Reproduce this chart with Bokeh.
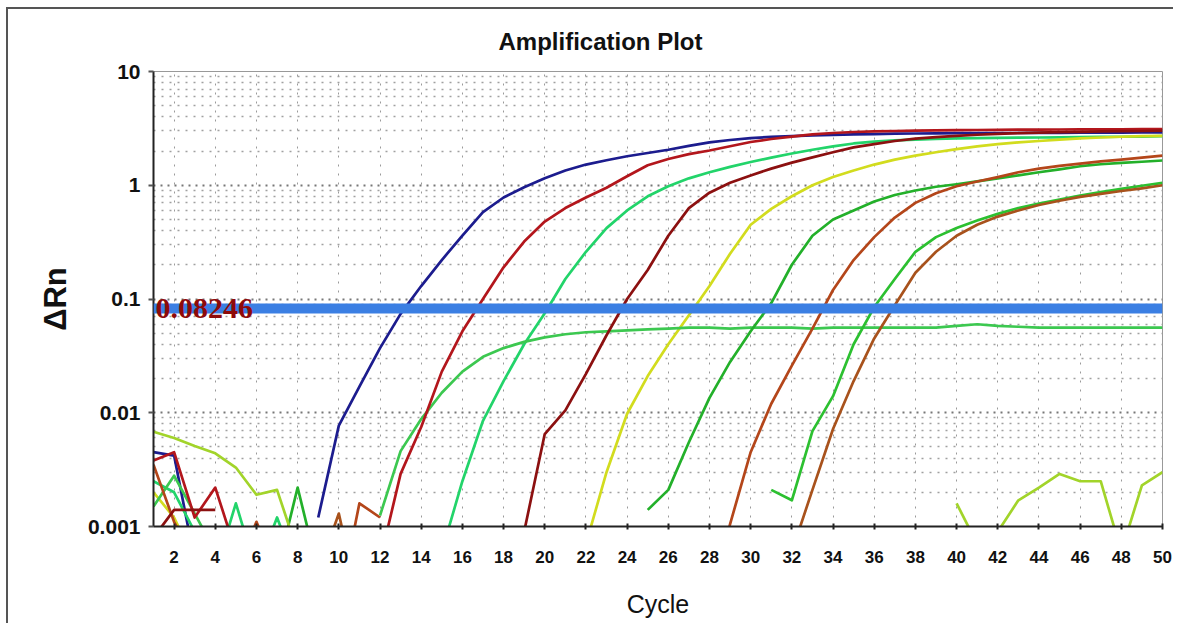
import math
from bokeh.plotting import figure
from bokeh.models import Range1d, FixedTicker, Span, Label
from bokeh.embed import file_html
from bokeh.resources import INLINE

na = float("nan")

cycles = list(range(1, 51))
threshold = 0.08246
threshold_text = "0.08246"

x_ticks = list(range(2, 51, 2))
y_ticks = [0.001, 0.01, 0.1, 1, 10]
y_tick_labels = ["0.001", "0.01", "0.1", "1", "10"]

blue_a = [0.0045, 0.0042, 0.0005, na, na, na, na, na, 0.0012, 0.0077,
          0.017, 0.037, 0.074, 0.13, 0.22, 0.36, 0.58, 0.78, 0.96, 1.15,
          1.35, 1.52, 1.66, 1.8, 1.92, 2.05, 2.22, 2.38, 2.5, 2.6,
          2.66, 2.7, 2.74, 2.77, 2.8, 2.82, 2.84, 2.85, 2.86, 2.87,
          2.87, 2.88, 2.88, 2.89, 2.89, 2.9, 2.9, 2.9, 2.91, 2.91]
red_b = [0.0038, 0.0045, 0.0012, 0.0022, 0.0006, na, na, na, na, na,
         na, 0.0005, 0.0029, 0.0075, 0.023, 0.052, 0.1, 0.19, 0.32, 0.48,
         0.63, 0.78, 0.95, 1.2, 1.5, 1.7, 1.88, 2.02, 2.2, 2.4,
         2.55, 2.68, 2.8, 2.88, 2.94, 2.98, 3.0, 3.02, 3.04, 3.05,
         3.06, 3.07, 3.08, 3.08, 3.09, 3.1, 3.1, 3.1, 3.11, 3.11]
green_c = [0.0015, 0.0028, 0.0013, 0.0006, na, na, na, na, na, na,
           na, 0.00125, 0.0046, 0.0088, 0.015, 0.023, 0.031, 0.037, 0.042, 0.046,
           0.049, 0.051, 0.052, 0.053, 0.054, 0.055, 0.056, 0.056, 0.055, 0.056,
           0.056, 0.056, 0.055, 0.056, 0.056, 0.056, 0.056, 0.056, 0.056, 0.058,
           0.06, 0.058, 0.057, 0.056, 0.056, 0.056, 0.056, 0.056, 0.056, 0.056]
green_d = [0.0025, 0.002, 0.0009, 0.0004, 0.0016, 0.0004, 0.0012, 0.0004, na, na,
           na, na, na, na, 0.0006, 0.0025, 0.0085, 0.019, 0.04, 0.075,
           0.15, 0.26, 0.42, 0.6, 0.8, 0.98, 1.15, 1.3, 1.45, 1.6,
           1.75, 1.9, 2.05, 2.2, 2.33, 2.42, 2.48, 2.52, 2.55, 2.58,
           2.6, 2.61, 2.62, 2.63, 2.64, 2.65, 2.66, 2.67, 2.68, 2.7]
red_e = [0.0008, 0.0014, 0.0014, 0.0014, na, na, na, na, na, na,
         na, na, na, na, na, na, na, na, 0.0009, 0.0065,
         0.0105, 0.022, 0.048, 0.1, 0.18, 0.36, 0.63, 0.86, 1.05, 1.22,
         1.4, 1.58, 1.76, 1.95, 2.15, 2.3, 2.45, 2.57, 2.65, 2.72,
         2.78, 2.83, 2.87, 2.9, 2.93, 2.95, 2.97, 2.99, 3.0, 3.02]
yellow_f = [0.002, 0.0012, 0.0005, na, na, na, na, na, na, na,
            na, na, na, na, na, na, na, na, na, na,
            na, 0.0007, 0.003, 0.0098, 0.021, 0.04, 0.072, 0.13, 0.25, 0.45,
            0.62, 0.8, 1.0, 1.18, 1.35, 1.52, 1.68, 1.82, 1.95, 2.08,
            2.2, 2.3, 2.38, 2.45, 2.52, 2.58, 2.63, 2.67, 2.7, 2.72]
green_g = [na, na, na, na, na, na, 0.0004, 0.0022, 0.0004, na,
           na, na, na, na, na, na, na, na, na, na,
           na, na, na, na, 0.0014, 0.0021, 0.0055, 0.0135, 0.028, 0.052,
           0.092, 0.2, 0.36, 0.5, 0.6, 0.72, 0.82, 0.9, 0.97, 1.02,
           1.08, 1.15, 1.22, 1.3, 1.38, 1.47, 1.53, 1.57, 1.61, 1.65]
brown_h = [0.0035, 0.0011, 0.0005, na, 0.0004, 0.0011, 0.0004, na, na, 0.0002,
           0.0016, 0.0012, na, na, na, na, na, na, na, na,
           na, na, na, na, na, na, na, 0.0002, 0.00105, 0.0045,
           0.012, 0.026, 0.055, 0.12, 0.22, 0.35, 0.52, 0.7, 0.85, 0.98,
           1.08, 1.18, 1.3, 1.4, 1.48, 1.55, 1.62, 1.68, 1.75, 1.82]
green_i = [na, na, na, na, na, na, na, na, na, na,
           na, na, na, na, na, na, na, na, na, na,
           na, na, na, na, na, na, na, na, na, na,
           0.0021, 0.0017, 0.0069, 0.014, 0.04, 0.085, 0.15, 0.26, 0.35, 0.42,
           0.49, 0.56, 0.63, 0.69, 0.75, 0.81, 0.87, 0.93, 0.99, 1.05]
brown_j = [na, na, na, na, na, na, na, na, 0.0004, 0.0013,
           0.0002, na, na, na, na, na, na, na, na, na,
           na, na, na, na, na, na, na, na, na, na,
           na, 0.0006, 0.0021, 0.0072, 0.019, 0.045, 0.088, 0.17, 0.26, 0.36,
           0.45, 0.53, 0.6, 0.67, 0.73, 0.79, 0.84, 0.89, 0.94, 1.0]
lime_k = [0.0068, 0.006, 0.0051, 0.0044, 0.0033, 0.0019, 0.0021, 0.0006, na, na,
          na, na, na, na, na, na, na, na, na, na,
          na, na, na, na, na, na, na, na, na, na,
          na, na, na, na, na, na, na, na, na, 0.0016,
          0.0007, 0.0009, 0.0017, 0.0022, 0.0029, 0.0025, 0.0025, 0.0006, 0.0023, 0.003]

# drawing order (bottom to top) and colours
series = [
    (blue_a, "#1c1c8e"),
    (green_d, "#22d46a"),
    (yellow_f, "#d2dc1e"),
    (green_c, "#3cc850"),
    (green_g, "#23b02a"),
    (green_i, "#2cc030"),
    (brown_h, "#b4461a"),
    (brown_j, "#a8521c"),
    (lime_k, "#a2d42a"),
    (red_b, "#b3161c"),
    (red_e, "#8c1010"),
]

SANS = "'Liberation Sans Narrow', 'Arial Narrow', 'Liberation Sans', sans-serif"

p = figure(width=1167, height=616, x_range=Range1d(1, 50), y_range=Range1d(0.001, 10),
           y_axis_type="log", output_backend="svg", toolbar_location=None,
           min_border_left=145, min_border_right=13, min_border_top=61, min_border_bottom=99,
           background_fill_color="white", border_fill_color="white")
# outer picture frame: left and top edges only (a shadow drawn outside the element)
p.styles = {"position": "relative", "left": "8px", "top": "9px",
            "box-shadow": "-2px -2px 0 0 #555555"}

p.title.text = "Amplification Plot"
p.title.align = "left"
p.title.offset = 345
p.title.text_font = SANS
p.title.text_font_size = "24px"
p.title.text_font_style = "bold"
p.title.text_color = "#111111"
p.title.standoff = 33

for ys, col in series:
    p.line(cycles, ys, line_color=col, line_width=2.7, line_join="round")

p.add_layout(Span(location=threshold, dimension="width", line_color="#3b7fe3",
                  line_width=10))
p.add_layout(Label(x=1, y=threshold, text=threshold_text, x_offset=2,
                   text_baseline="alphabetic", text_color="#8e0a0a",
                   text_font="'Liberation Serif', 'Times New Roman', serif",
                   text_font_style="bold", text_font_size="30px"))

# axes
p.xaxis.ticker = FixedTicker(ticks=x_ticks)
p.xaxis.axis_label = "Cycle"
p.xaxis.axis_label_text_font = SANS
p.xaxis.axis_label_text_font_size = "25px"
p.xaxis.axis_label_text_font_style = "normal"
p.xaxis.axis_label_text_color = "#111111"
p.xaxis.axis_label_standoff = 24
p.xaxis.major_label_text_font = SANS
p.xaxis.major_label_text_font_size = "17px"
p.xaxis.major_label_text_font_style = "bold"
p.xaxis.major_label_text_color = "#111111"
p.xaxis.major_label_standoff = 21
p.xaxis.major_tick_in = 3
p.xaxis.major_tick_out = 3
p.xaxis.minor_tick_in = 0
p.xaxis.minor_tick_out = 0
p.xaxis.axis_line_width = 2
p.xaxis.axis_line_color = "#222222"
p.xaxis.major_tick_line_color = "#222222"
p.xaxis.major_tick_line_width = 2

minor = [m * 10.0 ** e for e in range(-3, 1) for m in range(2, 10)]
yt = FixedTicker(ticks=y_ticks, minor_ticks=minor)
p.yaxis.ticker = yt
p.yaxis.major_label_overrides = {t: lab for t, lab in zip(y_ticks, y_tick_labels)}
p.yaxis.axis_label = "\u0394Rn"
p.yaxis.axis_label_text_font = "'Liberation Sans', Arial, sans-serif"
p.yaxis.axis_label_text_font_size = "31px"
p.yaxis.axis_label_text_font_style = "bold"
p.yaxis.axis_label_text_color = "#111111"
p.yaxis.axis_label_standoff = 12
p.yaxis.major_label_text_font = SANS
p.yaxis.major_label_text_font_size = "21px"
p.yaxis.major_label_text_font_style = "bold"
p.yaxis.major_label_text_color = "#111111"
p.yaxis.major_label_standoff = 8
p.yaxis.major_tick_in = 0
p.yaxis.major_tick_out = 5
p.yaxis.minor_tick_in = 0
p.yaxis.minor_tick_out = 0
p.yaxis.axis_line_width = 2
p.yaxis.axis_line_color = "#222222"
p.yaxis.major_tick_line_color = "#555555"
p.yaxis.major_tick_line_width = 2

# grid
p.xgrid.ticker = FixedTicker(ticks=x_ticks)
p.xgrid.grid_line_color = "#9a9a9a"
p.xgrid.grid_line_dash = "2 7"
p.xgrid.grid_line_width = 1
p.ygrid.ticker = yt
p.ygrid.grid_line_color = "#777777"
p.ygrid.grid_line_dash = "2 5"
p.ygrid.grid_line_width = 2
p.ygrid.minor_grid_line_color = "#a0a0a0"
p.ygrid.minor_grid_line_dash = "2 6"
p.ygrid.minor_grid_line_width = 1.5

p.outline_line_color = "#999999"
p.outline_line_width = 1

open("out.html", "w").write(file_html(p, INLINE))
